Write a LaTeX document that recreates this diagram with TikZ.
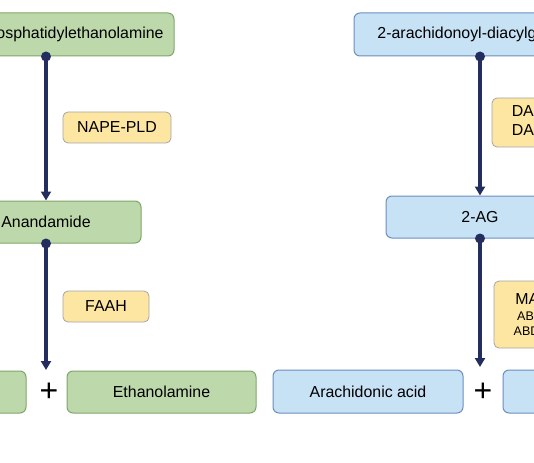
\documentclass[tikz,border=0pt]{standalone}
\usepackage{fontspec}
\setmainfont{Liberation Sans}
\usetikzlibrary{arrows.meta}
\definecolor{greenfill}{HTML}{BDD9AC}
\definecolor{greenline}{HTML}{7FA66A}
\definecolor{bluefill}{HTML}{C7E1F5}
\definecolor{blueline}{HTML}{6C8EBF}
\definecolor{enzfill}{HTML}{FDE6A2}
\definecolor{enzline}{HTML}{A5A5A5}
\definecolor{flowcol}{HTML}{232E5E}
\tikzset{
  mol/.style={draw, rounded corners=6pt, line width=1pt, minimum height=43pt, inner sep=0pt, font=\fontsize{15.9}{19}\selectfont},
  aeabox/.style={mol, fill=greenfill, draw=greenline},
  agbox/.style={mol, fill=bluefill, draw=blueline},
  enz/.style={draw=enzline, fill=enzfill, rounded corners=5pt, line width=0.8pt, inner sep=0pt, align=center, font=\fontsize{15.9}{19}\selectfont},
  flow/.style={line width=3.4pt, draw=flowcol, -{Triangle[width=10pt,length=9pt]}},
  joint/.style={fill=flowcol},
  plus/.style={font=\fontsize{32}{32}\selectfont, anchor=base, inner sep=0pt}
}
\begin{document}
\begin{tikzpicture}[x=1pt,y=-1pt]
				\useasboundingbox (0,0) rectangle (534,462);
				% anandamide pathway
				\node[aeabox, minimum width=256pt] (nape) at (46,34.5) {N-acyl-phosphatidylethanolamine};
				\node[enz, minimum width=108pt, minimum height=31pt] (napepld) at (117,127.5) {NAPE-PLD};
				\node[aeabox, minimum width=190pt, minimum height=42pt] (aea) at (46,222) {Anandamide};
				\node[enz, minimum width=86pt, minimum height=31pt] (faah) at (106,306.5) {FAAH};
				\node[aeabox, minimum width=190pt, minimum height=42pt] (aaL) at (-69,392) {};
				\node[plus] (plusL) at (49,401.5) {+};
				\node[aeabox, minimum width=189pt, minimum height=42pt] (etha) at (161.5,392) {Ethanolamine};
				\coordinate (aeaEnd) at (46,370);
				% 2-AG pathway
				\node[agbox, minimum width=252pt] (dag) at (480,34.5) {2-arachidonoyl-diacylglycerol};
				\node[enz, minimum width=92pt, minimum height=49pt] (dagl) at (538,122.5) {DAGLα\\DAGLβ};
				\node[enz, minimum width=88pt, minimum height=67pt, font=\fontsize{12.5}{14.5}\selectfont] (magl) at (538,314.5) {{\fontsize{15.9}{15}\selectfont MAGL}\\[1pt]ABHD6\\[0.5pt]ABDH12};
				\node[agbox, minimum width=188pt, minimum height=42pt] (twoag) at (480,217) {2-AG};
				\node[agbox, minimum width=190pt, minimum height=43pt] (aaR) at (368,391.5) {Arachidonic acid};
				\node[plus] (plusR) at (483,401.5) {+};
				\node[agbox, minimum width=190pt, minimum height=43pt] (glyc) at (598,391.5) {};
				\coordinate (agEnd) at (480,367);
				% reactions
				\draw[flow] (nape.south) -- (aea.north);
				\draw[flow] (aea.south) -- (aeaEnd);
				\draw[flow] (dag.south) -- (twoag.north);
				\draw[flow] (twoag.south) -- (agEnd);
				\fill[joint] (nape.south) circle (5pt);
				\fill[joint] (aea.south) circle (5pt);
				\fill[joint] (dag.south) circle (5pt);
				\fill[joint] (twoag.south) circle (5pt);
			\end{tikzpicture}
\end{document}
